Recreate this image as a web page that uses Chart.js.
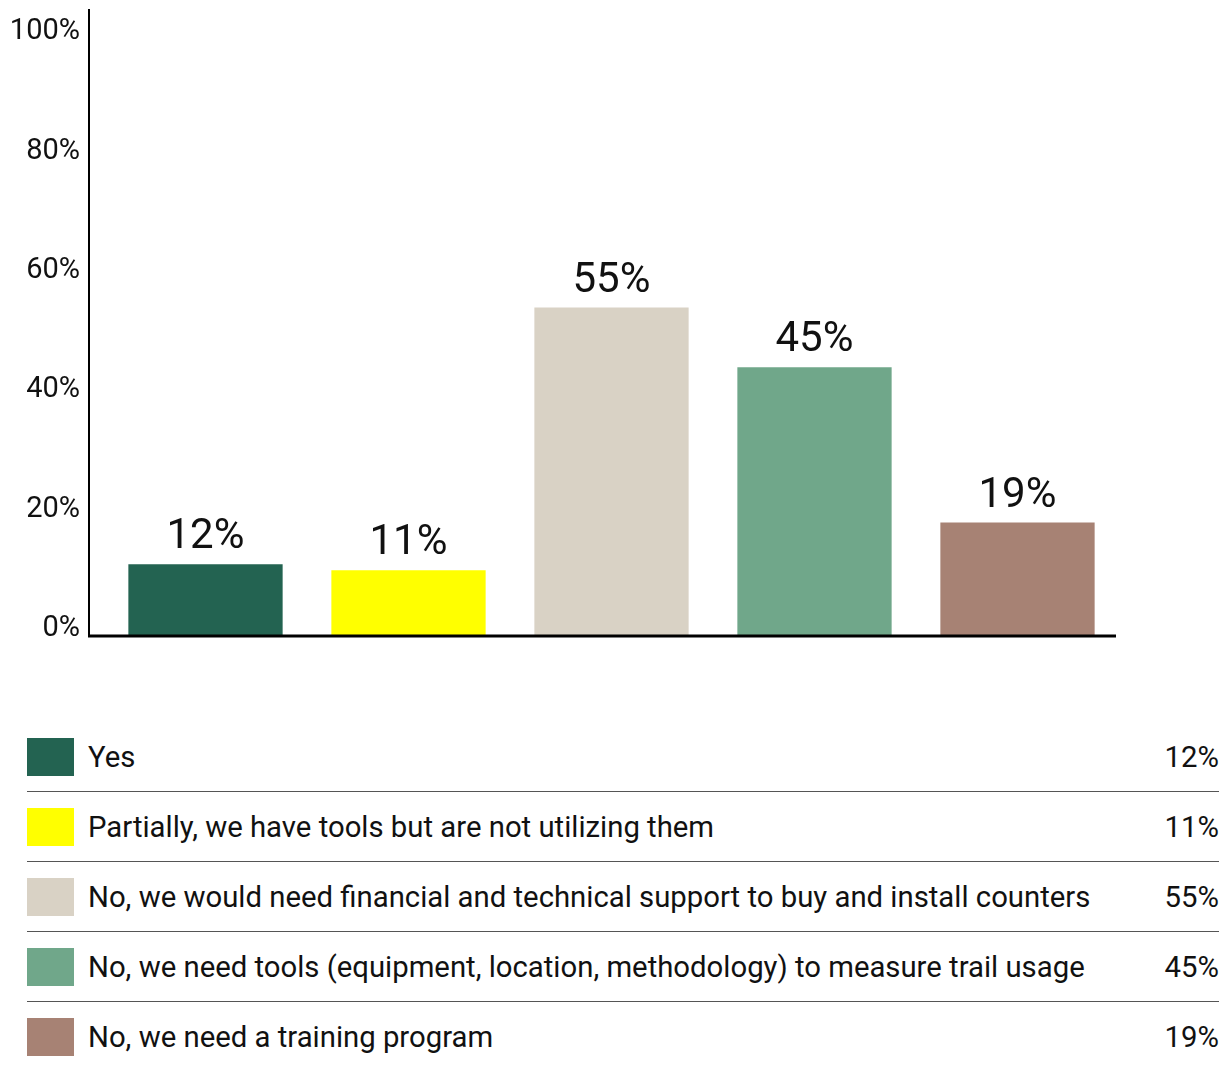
<!DOCTYPE html>
<html>
<head>
<meta charset="utf-8">
<script src="https://cdn.jsdelivr.net/npm/chart.js@4"></script>
<style>
  body { margin: 0; background: #fff; font-family: Roboto, sans-serif; color: #111; }
  #wrap { width: 1227px; height: 660px; position: relative; }
  #legend { position: absolute; top: 722px; left: 27px; width: 1192px; }
  .row { height: 69px; display: flex; align-items: center; border-bottom: 1px solid #555; font-size: 29.3px; }
  .row:last-child { border-bottom: none; }
  .sw { width: 47px; height: 38px; margin-right: 14px; flex: none; }
  .txt { flex: 1; }
  .pct { text-align: right; }
</style>
</head>
<body>
<div id="wrap"><canvas id="chart"></canvas></div>
<div id="legend"></div>
<script>
// категории и значения
const categories = [
    'Yes',
    'Partially, we have tools but are not utilizing them',
    'No, we would need financial and technical support to buy and install counters',
    'No, we need tools (equipment, location, methodology) to measure trail usage',
    'No, we need a training program'
];
const values = [12, 11, 55, 45, 19];
const colors = ['#236351', '#ffff00', '#d9d2c5', '#70a78a', '#a78274'];
const yTicks = [0, 20, 40, 60, 80, 100];

// подписи над столбцами + оси
const extras = {
    id: 'extras',
    afterDatasetsDraw(chart) {
        const ctx = chart.ctx;
        const area = chart.chartArea;
        const y0 = chart.scales.y.getPixelForValue(0);
        ctx.save();
        ctx.font = '42px Roboto';
        ctx.fillStyle = '#111';
        ctx.textAlign = 'center';
        ctx.textBaseline = 'alphabetic';
        chart.getDatasetMeta(0).data.forEach((bar, i) => {
            ctx.fillText(values[i] + '%', bar.x, bar.y - 16);
        });
        ctx.strokeStyle = '#000';
        ctx.lineWidth = 2;
        ctx.beginPath();
        ctx.moveTo(area.left - 15, area.top);
        ctx.lineTo(area.left - 15, y0 + 1);
        ctx.stroke();
        ctx.lineWidth = 3;
        ctx.beginPath();
        ctx.moveTo(area.left - 16, y0);
        ctx.lineTo(area.right - 3, y0);
        ctx.stroke();
        ctx.restore();
    }
};

new Chart(document.getElementById('chart'), {
    type: 'bar',
    data: {
        labels: categories,
        datasets: [{
            data: values,
            backgroundColor: colors,
            categoryPercentage: 1,
            barPercentage: 0.76
        }]
    },
    options: {
        responsive: true,
        maintainAspectRatio: false,
        animation: false,
        layout: { padding: { top: 9, right: 108, bottom: 24, left: 0 } },
        plugins: { legend: { display: false }, tooltip: { enabled: false } },
        scales: {
            x: { display: false },
            y: {
                min: 0,
                max: 105,
                afterBuildTicks(scale) {
                    scale.ticks = yTicks.map(v => ({ value: v }));
                },
                afterFit(scale) {
                    scale.width = 104;
                    scale.paddingTop = 0;
                    scale.paddingBottom = 0;
                },
                grid: { display: false, drawTicks: false },
                border: { display: false },
                ticks: {
                    padding: 24,
                    labelOffset: -7,
                    color: '#111',
                    font: { family: 'Roboto', size: 29 },
                    callback: v => v + '%'
                }
            }
        }
    },
    plugins: [extras]
});

// легенда таблицей
const legend = document.getElementById('legend');
categories.forEach((c, i) => {
    const row = document.createElement('div');
    row.className = 'row';
    row.innerHTML = '<div class="sw" style="background:' + colors[i] + '"></div>' +
        '<div class="txt">' + c + '</div><div class="pct">' + values[i] + '%</div>';
    legend.appendChild(row);
});
</script>
</body>
</html>
